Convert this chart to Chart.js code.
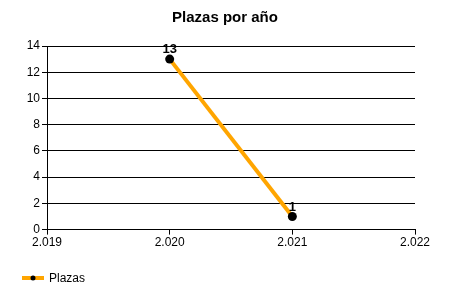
<!DOCTYPE html>
<html>
<head>
<meta charset="utf-8">
<script src="https://cdn.jsdelivr.net/npm/chart.js@4/dist/chart.umd.min.js"></script>
<style>
  html, body { margin: 0; padding: 0; background: #fff; }
  #wrap { width: 450px; height: 300px; }
</style>
</head>
<body>
<div id="wrap"><canvas id="myChart" width="450" height="300"></canvas></div>
<script>
// data
const years = [2020, 2021]
const plazas = [13, 1]
const xTicks = [2019, 2020, 2021, 2022]
const yTicks = [0, 2, 4, 6, 8, 10, 12, 14]
const title = 'Plazas por año'

const fontFam = '"Liberation Sans", Arial, sans-serif'

// title, value labels above the points, legend at the bottom
const extras = {
  id: 'extras',
  afterDatasetsDraw(chart) {
    const ctx = chart.ctx
    const meta = chart.getDatasetMeta(0)
    ctx.save()
    ctx.font = 'bold 13px ' + fontFam
    ctx.fillStyle = '#000'
    ctx.textAlign = 'center'
    ctx.textBaseline = 'bottom'
    meta.data.forEach((pt, i) => {
      ctx.fillText(String(plazas[i]), pt.x, pt.y - 3)
    })
    ctx.restore()
  },
  afterDraw(chart) {
    const ctx = chart.ctx
    const ds = chart.data.datasets[0]
    ctx.save()
    // title
    ctx.font = 'bold 15px ' + fontFam
    ctx.fillStyle = '#000'
    ctx.textAlign = 'center'
    ctx.textBaseline = 'middle'
    ctx.fillText(title, chart.width / 2, 18)
    // legend
    ctx.fillStyle = ds.borderColor
    ctx.fillRect(22, 276, 22, 4)
    ctx.fillStyle = '#000'
    ctx.beginPath()
    ctx.arc(33, 278, 2.5, 0, Math.PI * 2)
    ctx.fill()
    ctx.font = '12px ' + fontFam
    ctx.textAlign = 'left'
    ctx.fillText(ds.label, 49, 279)
    ctx.restore()
  }
}

const data = {
  datasets: [{
    label: 'Plazas',
    data: years.map((y, i) => ({ x: y, y: plazas[i] })),
    borderColor: '#FFA500',
    backgroundColor: '#000',
    borderWidth: 4,
    pointRadius: 4.5,
    pointHoverRadius: 4.5,
    pointBackgroundColor: '#000',
    pointBorderWidth: 0,
    tension: 0
  }]
}

const config = {
  type: 'line',
  data: data,
  options: {
    responsive: false,
    animation: false,
    layout: { padding: { top: 46, right: 35, left: 0, bottom: 49 } },
    plugins: {
      title: { display: false },
      legend: { display: false },
      tooltip: { enabled: false }
    },
    scales: {
      x: {
        type: 'linear',
        min: xTicks[0],
        max: xTicks[xTicks.length - 1],
        afterBuildTicks(axis) { axis.ticks = xTicks.map(v => ({ value: v })) },
        ticks: {
          color: '#000',
          font: { family: fontFam, size: 12 },
          padding: 1,
          maxRotation: 0,
          callback: v => String(v).replace(/^(\d)(\d{3})$/, '$1.$2')
        },
        grid: { drawOnChartArea: false, drawTicks: true, tickLength: 5, color: '#000' },
        border: { color: '#000', width: 1 }
      },
      y: {
        min: yTicks[0],
        max: yTicks[yTicks.length - 1],
        afterBuildTicks(axis) { axis.ticks = yTicks.map(v => ({ value: v })) },
        afterFit(axis) { axis.width = 47 },
        ticks: {
          color: '#000',
          font: { family: fontFam, size: 12 },
          padding: 2
        },
        grid: { color: '#000', tickLength: 5 },
        border: { color: '#000', width: 1 }
      }
    }
  },
  plugins: [extras]
}

const myChart = new Chart(document.getElementById('myChart'), config)
</script>
</body>
</html>
